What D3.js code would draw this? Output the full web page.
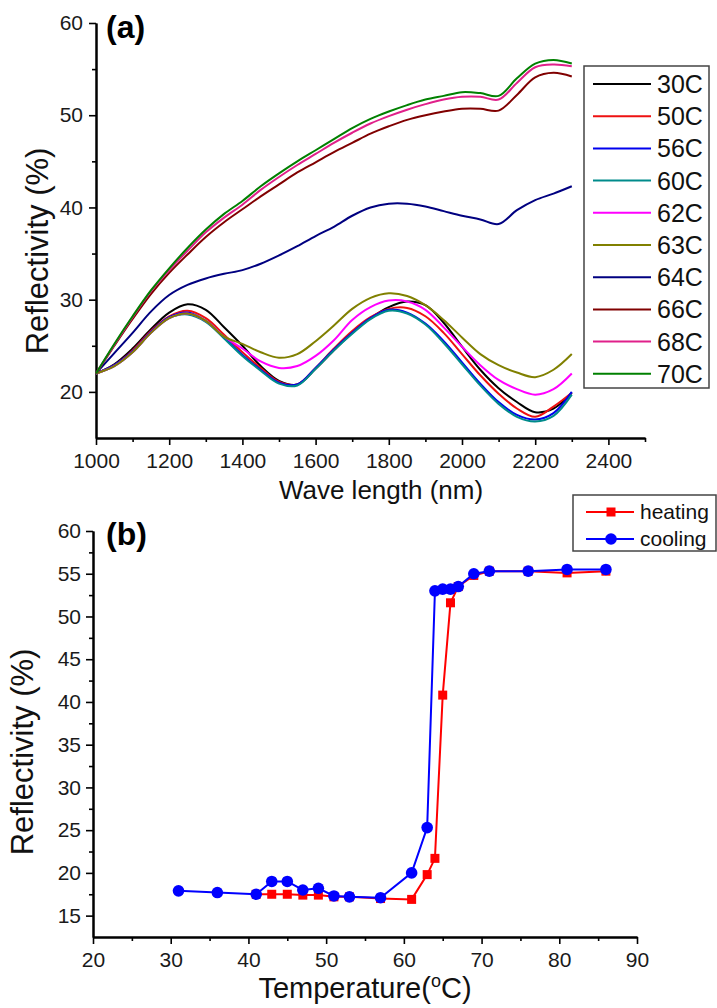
<!DOCTYPE html>
<html>
<head>
<meta charset="utf-8">
<script src="https://cdn.jsdelivr.net/npm/d3@7"></script>
<style>
  html, body { margin: 0; padding: 0; background: #fff; }
  svg { display: block; font-family: "Liberation Sans", Arial, sans-serif; }
</style>
</head>
<body>
<svg id="chart" width="717" height="1008"></svg>
<script>
// ---------- Panel (a) data: reflectivity spectra ----------
const wavelengths = [1000,1050,1100,1150,1200,1250,1300,1350,1400,1450,1500,1550,1600,1650,1700,1750,1800,1850,1900,1950,2000,2050,2100,2150,2200,2250,2300];
const labelsA = ["30C","50C","56C","60C","62C","63C","64C","66C","68C","70C"];
const colorsA = ["#000000","#ee1111","#0000ee","#008b8b","#ff00ff","#808000","#000080","#800000","#e0208a","#008000"];
const r30 = [22.0,23.0,24.7,26.8,28.6,29.5,28.9,27.0,25.0,22.8,21.2,20.8,22.5,24.5,26.4,28.0,29.2,29.8,29.4,27.5,24.9,22.4,20.4,18.9,17.8,18.2,19.9];
const r50 = [22.0,22.9,24.5,26.6,28.2,28.8,28.0,26.2,24.3,22.6,21.1,20.8,22.6,24.7,26.6,28.1,29.0,29.1,28.2,26.4,24.1,21.8,19.8,18.2,17.3,18.4,19.9];
const r56 = [22.0,22.9,24.4,26.5,28.1,28.6,27.7,25.9,24.0,22.4,21.0,20.8,22.6,24.6,26.4,28.0,28.9,28.6,27.4,25.5,23.2,20.9,18.9,17.5,17.0,17.7,20.0];
const r60 = [22.0,22.8,24.3,26.4,28.0,28.4,27.6,25.8,23.9,22.3,20.9,20.7,22.5,24.5,26.3,27.9,28.8,28.5,27.3,25.3,23.0,20.7,18.7,17.3,16.8,17.4,19.7];
const r62 = [22.0,22.8,24.3,26.4,28.0,28.5,27.7,26.0,24.7,23.3,22.6,22.8,23.9,25.6,27.8,29.2,29.9,29.8,28.9,27.0,24.9,22.9,21.3,20.3,19.7,20.3,22.0];
const r63 = [22.0,22.8,24.3,26.4,28.0,28.5,27.7,26.0,25.2,24.3,23.7,24.1,25.5,27.2,29.0,30.2,30.7,30.4,29.4,27.8,25.9,24.1,22.9,22.1,21.6,22.4,24.1];
const r64 = [22.0,24.2,26.4,28.7,30.5,31.6,32.3,32.8,33.2,33.9,34.8,35.8,36.9,37.9,39.1,40.0,40.4,40.4,40.1,39.6,39.1,38.7,38.2,39.7,40.8,41.5,42.3];
const r66 = [22.0,25.0,27.9,30.6,32.9,34.9,36.8,38.4,39.8,41.2,42.5,43.8,44.9,46.0,47.0,48.0,48.8,49.5,50.0,50.4,50.7,50.7,50.5,52.2,54.1,54.6,54.2];
const r68 = [22.0,25.1,28.1,30.9,33.2,35.3,37.3,38.9,40.3,41.9,43.3,44.6,45.8,47.0,48.1,49.1,49.9,50.6,51.2,51.7,52.0,52.0,51.7,53.5,55.2,55.5,55.3];
const r70 = [22.0,25.2,28.2,31.0,33.4,35.6,37.6,39.3,40.7,42.3,43.7,45.0,46.2,47.4,48.6,49.6,50.4,51.1,51.7,52.1,52.5,52.4,52.1,54.0,55.6,56.0,55.6];
const seriesA = [r30,r50,r56,r60,r62,r63,r64,r66,r68,r70];
const xTicksA = [1000,1200,1400,1600,1800,2000,2200,2400];
const xMinorA = [1100,1300,1500,1700,1900,2100,2300,2500];
const yTicksA = [20,30,40,50,60];
const yMinorA = [25,35,45,55];

// ---------- Panel (b) data: reflectivity vs temperature ----------
const heatT = [41,43,45,47,49,51,53,57,61,63,64,65,66,67,69,71,76,81,86];
const heatR = [17.5,17.5,17.5,17.4,17.4,17.2,17.2,17.0,16.9,19.8,21.7,40.8,51.6,53.5,54.8,55.3,55.3,55.1,55.3];
const coolT = [31,36,41,43,45,47,49,51,53,57,61,63,64,65,66,67,69,71,76,81,86];
const coolR = [17.9,17.7,17.5,19.0,19.0,18.0,18.2,17.3,17.2,17.1,20.0,25.3,53.0,53.2,53.2,53.5,55.0,55.3,55.3,55.5,55.5];
const xTicksB = [20,30,40,50,60,70,80,90];
const xMinorB = [25,35,45,55,65,75,85];
const yTicksB = [15,20,25,30,35,40,45,50,55,60];
const yMinorB = [17.5,22.5,27.5,32.5,37.5,42.5,47.5,52.5,57.5];

const svg = d3.select("#chart");
svg.append("rect").attr("width",717).attr("height",1008).attr("fill","#fff");

function styleAxis(g){
  g.select(".domain").attr("stroke","#000").attr("stroke-width",2);
  g.selectAll(".tick line").attr("stroke","#000").attr("stroke-width",1.6);
  g.selectAll(".tick text").attr("font-size",21).attr("fill","#1a1a1a")
    .attr("font-family","'Liberation Sans', Arial, sans-serif");
}

// ================= Panel (a) =================
const xA = d3.scaleLinear().domain([1000,2500]).range([96,645]);
const yA = d3.scaleLinear().domain([15,60]).range([438,23]);

const gA = svg.append("g");
gA.append("g").attr("transform","translate(0,438)")
  .call(d3.axisBottom(xA).tickValues(xMinorA).tickSize(4).tickSizeOuter(0).tickFormat(""))
  .call(styleAxis);
gA.append("g").attr("transform","translate(0,438)")
  .call(d3.axisBottom(xA).tickValues(xTicksA).tickSize(7).tickSizeOuter(0).tickPadding(8).tickFormat(d3.format("d")))
  .call(styleAxis);
gA.append("g").attr("transform","translate(96,0)")
  .call(d3.axisLeft(yA).tickValues(yMinorA).tickSize(4).tickSizeOuter(0).tickFormat(""))
  .call(styleAxis);
gA.append("g").attr("transform","translate(96,0)")
  .call(d3.axisLeft(yA).tickValues(yTicksA).tickSize(7).tickSizeOuter(0).tickPadding(6))
  .call(styleAxis);

const lineA = d3.line().curve(d3.curveCatmullRom.alpha(0.5))
  .x((d,i)=>xA(wavelengths[i])).y(d=>yA(d));
seriesA.forEach((s,k)=>{
  gA.append("path").datum(s).attr("d",lineA)
    .attr("fill","none").attr("stroke",colorsA[k]).attr("stroke-width",2)
    .attr("stroke-linejoin","round");
});

// legend (a)
const legA = gA.append("g");
legA.append("rect").attr("x",584).attr("y",66).attr("width",125).attr("height",322)
  .attr("fill","#fff").attr("stroke","#444").attr("stroke-width",1.5);
labelsA.forEach((lab,k)=>{
  const yy = 84 + k*32.2;
  legA.append("line").attr("x1",593).attr("x2",651).attr("y1",yy).attr("y2",yy)
    .attr("stroke",colorsA[k]).attr("stroke-width",2);
  legA.append("text").attr("x",657).attr("y",yy+9).attr("font-size",25).attr("fill","#111").text(lab);
});

gA.append("text").attr("x",106).attr("y",38).attr("font-size",32).attr("font-weight","bold").text("(a)");
gA.append("text").attr("x",381).attr("y",499).attr("text-anchor","middle").attr("font-size",26).attr("fill","#111").text("Wave length (nm)");
gA.append("text").attr("transform","translate(48,251) rotate(-90)").attr("text-anchor","middle")
  .attr("font-size",31).attr("fill","#111").text("Reflectivity (%)");

// ================= Panel (b) =================
const xB = d3.scaleLinear().domain([20,90]).range([93,637]);
const yB = d3.scaleLinear().domain([12.5,60]).range([937,531]);

const gB = svg.append("g");
gB.append("g").attr("transform","translate(0,937)")
  .call(d3.axisBottom(xB).tickValues(xMinorB).tickSize(4).tickSizeOuter(0).tickFormat(""))
  .call(styleAxis);
gB.append("g").attr("transform","translate(0,937)")
  .call(d3.axisBottom(xB).tickValues(xTicksB).tickSize(7).tickSizeOuter(0).tickPadding(8))
  .call(styleAxis);
gB.append("g").attr("transform","translate(93,0)")
  .call(d3.axisLeft(yB).tickValues(yMinorB).tickSize(4).tickSizeOuter(0).tickFormat(""))
  .call(styleAxis);
gB.append("g").attr("transform","translate(93,0)")
  .call(d3.axisLeft(yB).tickValues(yTicksB).tickSize(7).tickSizeOuter(0).tickPadding(5))
  .call(styleAxis);

const heat = heatT.map((t,i)=>({t, r:heatR[i]}));
const cool = coolT.map((t,i)=>({t, r:coolR[i]}));
const lineB = d3.line().x(d=>xB(d.t)).y(d=>yB(d.r));

gB.append("path").datum(heat).attr("d",lineB).attr("fill","none").attr("stroke","#ff0000").attr("stroke-width",2);
gB.selectAll("rect.hm").data(heat).enter().append("rect").attr("class","hm")
  .attr("x",d=>xB(d.t)-4.5).attr("y",d=>yB(d.r)-4.5).attr("width",9).attr("height",9).attr("fill","#ff0000");
gB.append("path").datum(cool).attr("d",lineB).attr("fill","none").attr("stroke","#0000ff").attr("stroke-width",2);
gB.selectAll("circle.cm").data(cool).enter().append("circle").attr("class","cm")
  .attr("cx",d=>xB(d.t)).attr("cy",d=>yB(d.r)).attr("r",5.8).attr("fill","#0000ff");

// legend (b)
const legB = gB.append("g");
legB.append("rect").attr("x",573).attr("y",495).attr("width",143).attr("height",56)
  .attr("fill","#fff").attr("stroke","#444").attr("stroke-width",1.5);
legB.append("line").attr("x1",586).attr("x2",634).attr("y1",512).attr("y2",512).attr("stroke","#ff0000").attr("stroke-width",2);
legB.append("rect").attr("x",611-4.5).attr("y",512-4.5).attr("width",9).attr("height",9).attr("fill","#ff0000");
legB.append("text").attr("x",640).attr("y",519).attr("font-size",21).attr("fill","#111").text("heating");
legB.append("line").attr("x1",586).attr("x2",634).attr("y1",539).attr("y2",539).attr("stroke","#0000ff").attr("stroke-width",2);
legB.append("circle").attr("cx",611).attr("cy",539).attr("r",5.8).attr("fill","#0000ff");
legB.append("text").attr("x",640).attr("y",546).attr("font-size",21).attr("fill","#111").text("cooling");

gB.append("text").attr("x",106).attr("y",545).attr("font-size",32).attr("font-weight","bold").text("(b)");
const tt = gB.append("text").attr("x",365).attr("y",998).attr("text-anchor","middle").attr("font-size",29).attr("fill","#111");
tt.append("tspan").text("Temperature(");
tt.append("tspan").attr("font-size",18).attr("dy",-11).text("o");
tt.append("tspan").attr("dy",11).text("C)");
gB.append("text").attr("transform","translate(33,752) rotate(-90)").attr("text-anchor","middle")
  .attr("font-size",31).attr("fill","#111").text("Reflectivity (%)");
</script>
</body>
</html>
